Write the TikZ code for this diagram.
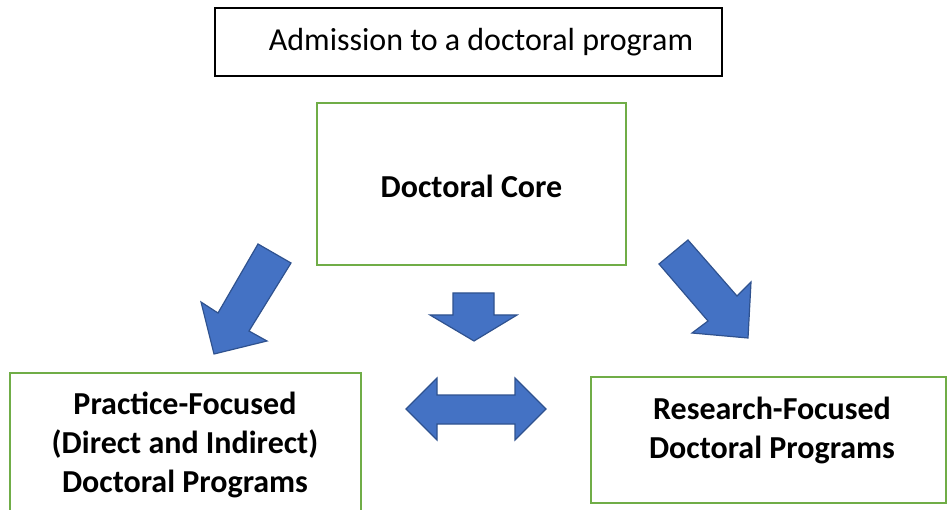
\documentclass[tikz,border=0pt]{standalone}
\usepackage{fontspec}
\setmainfont{Carlito}
\definecolor{boxgreen}{HTML}{70AD47}
\definecolor{arrowfill}{HTML}{4472C4}
\definecolor{arrowline}{HTML}{2F528F}
\tikzset{
  greenbox/.style={draw=boxgreen, line width=2pt, fill=white, inner sep=0pt},
  boxtext/.style={font=\fontsize{32}{39}\selectfont\bfseries, align=center, inner sep=0pt},
  blackbox/.style={draw=black, line width=1.3pt, inner sep=0pt},
  plaintext/.style={font=\fontsize{32}{38}\selectfont, align=center, inner sep=0pt},
  blockarrow/.style={fill=arrowfill, draw=arrowline, line width=1.2pt, line join=miter}
}
\begin{document}
\begin{tikzpicture}[x=1pt,y=-1pt]
\useasboundingbox (0,0) rectangle (947,510);
\clip (0,0) rectangle (947,510);
\node[blackbox, minimum width=507pt, minimum height=68pt] (adm) at (468.5,42) {};
\node[plaintext] (admtext) at (481,42) {Admission to a doctoral program};
\node[greenbox, minimum width=309pt, minimum height=162pt] (core) at (471.5,184) {};
\node[boxtext] (coretext) at (471.5,186) {Doctoral Core};
\node[greenbox, minimum width=351pt, minimum height=160pt] (prac) at (185,453) {};
\node[boxtext] (practext) at (185,445) {Practice-Focused\\(Direct and Indirect)\\Doctoral Programs};
\node[greenbox, minimum width=355pt, minimum height=126pt] (res) at (768.5,440) {};
\node[boxtext] (restext) at (772,430) {Research-Focused\\Doctoral Programs};
% block arrows
\path[blockarrow] (258,244) -- (291,263) -- (249,331) -- (267,341) -- (214,354) -- (201,302) -- (218,313) -- cycle;
\path[blockarrow] (688,240) -- (737,296) -- (751,282) -- (748,338) -- (692,333) -- (708,321) -- (659,264) -- cycle;
\path[blockarrow] (453,293) -- (494,293) -- (494,315) -- (517,315) -- (474,341) -- (430,315) -- (453,315) -- cycle;
\path[blockarrow] (406,409) -- (437,378) -- (437,395) -- (515,395) -- (515,378) -- (546,409) -- (515,440) -- (515,424) -- (437,424) -- (437,440) -- cycle;
\end{tikzpicture}
\end{document}
